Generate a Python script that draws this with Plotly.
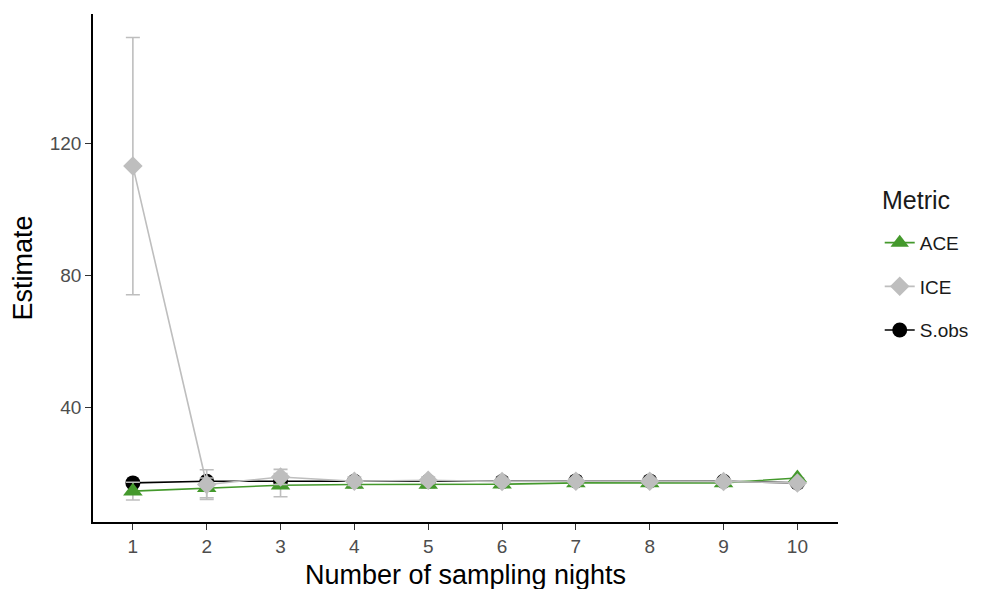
import plotly.graph_objects as go

nights = [1, 2, 3, 4, 5, 6, 7, 8, 9, 10]

sobs = [17.0, 17.5, 17.5, 17.5, 17.5, 17.4, 17.6, 17.6, 17.5, 17.0]
ace = [14.5, 15.5, 16.3, 16.5, 16.5, 16.6, 17.0, 17.0, 17.0, 18.5]
ace_err = [2.7, 3.0, 3.5, 1.0, 1.0, 0.8, 0.8, 0.8, 0.8, 0.0]
ice = [113.0, 16.5, 18.8, 17.5, 17.8, 17.4, 17.5, 17.5, 17.4, 17.0]
ice_err = [39.0, 4.5, 2.3, 1.3, 1.0, 0.8, 0.8, 0.8, 0.8, 0.0]

x_ticks = [1, 2, 3, 4, 5, 6, 7, 8, 9, 10]
y_ticks = [40, 80, 120]

GREEN = "#44992c"
GREY = "#bebebe"
BLACK = "#000000"
FONT = "Liberation Sans"

fig = go.Figure()

fig.add_trace(go.Scatter(
    x=nights, y=sobs, name="S.obs", mode="lines+markers",
    line=dict(color=BLACK, width=1.6),
    marker=dict(symbol="circle", size=15, color=BLACK),
    legendrank=3, legendgroup="c",
))
fig.add_trace(go.Scatter(
    x=nights, y=ace, name="ACE", mode="lines+markers",
    line=dict(color=GREEN, width=1.6),
    marker=dict(symbol="triangle-up", size=17, color=GREEN),
    error_y=dict(type="data", array=ace_err, color=GREY, thickness=1.6, width=7),
    legendrank=1, legendgroup="a",
))
fig.add_trace(go.Scatter(
    x=nights, y=ice, name="ICE", mode="lines+markers",
    line=dict(color=GREY, width=1.6),
    marker=dict(symbol="diamond", size=15, color=GREY),
    error_y=dict(type="data", array=ice_err, color=GREY, thickness=1.6, width=7),
    legendrank=2, legendgroup="b",
))

fig.add_annotation(
    text="Metric", xref="paper", yref="paper", x=1.056, y=0.634,
    xanchor="left", yanchor="middle", showarrow=False,
    font=dict(size=25, color="#1a1a1a", family=FONT),
)

fig.update_layout(
    width=989, height=589,
    margin=dict(l=85, r=159, t=6, b=75, autoexpand=False),
    paper_bgcolor="white", plot_bgcolor="white",
    font=dict(family=FONT, color="#000000"),
    showlegend=True,
    legend=dict(
        font=dict(size=19, color="#1a1a1a"),
        x=1.056, xanchor="left", y=0.587, yanchor="top",
        tracegroupgap=16, traceorder="grouped", itemwidth=30,
        bgcolor="rgba(0,0,0,0)",
    ),
    xaxis=dict(
        range=[0.46, 10.55], tickvals=x_ticks, ticktext=[str(v) for v in x_ticks],
        showgrid=False, zeroline=False, automargin=False,
        showline=True, linecolor="black", linewidth=1.5,
        ticks="outside", ticklen=6, tickcolor="#333333", tickwidth=1.2,
        tickfont=dict(size=19, color="#4d4d4d"),
        title=dict(text="Number of sampling nights", font=dict(size=27, color="#000000"), standoff=10),
    ),
    yaxis=dict(
        range=[5.15, 159.1], tickvals=y_ticks, ticktext=[str(v) for v in y_ticks],
        showgrid=False, zeroline=False, automargin=False,
        showline=True, linecolor="black", linewidth=1.5,
        ticks="outside", ticklen=6, tickcolor="#333333", tickwidth=1.2,
        tickfont=dict(size=19, color="#4d4d4d"),
        title=dict(text="Estimate", font=dict(size=27, color="#000000"), standoff=12),
    ),
)

fig.write_html("out.html")
